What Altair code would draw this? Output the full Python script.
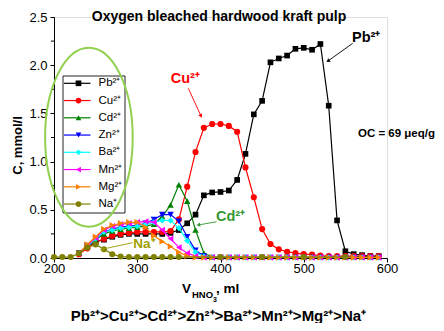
import altair as alt
import pandas as pd

FONT = "Liberation Sans"

# ---------------- data ----------------
V = [200, 210, 220, 230, 240, 250, 260, 270, 280, 290,
     300, 310, 320, 330, 340, 350, 360, 370, 380, 390,
     400, 410, 420, 430, 440, 450, 460, 470, 480, 490,
     500, 510, 520, 530, 540, 550, 560, 570, 580, 590]

Pb = [None, None, None, 0.05, 0.12, 0.17, 0.19, 0.22, 0.24, 0.25,
      0.25, 0.25, 0.25, 0.25, 0.26, 0.29, 0.36, 0.45, 0.65, 0.68,
      0.685, 0.70, 0.81, 1.08, 1.49, 1.63, 2.03, 2.07, 2.10, 2.17,
      2.18, 2.16, 2.22, 1.58, 0.39, 0.07, 0.04, 0.03, 0.02, 0.02]
Cu = [None, None, None, 0.04, 0.10, 0.16, 0.20, 0.23, 0.25, 0.26,
      0.27, 0.27, 0.27, 0.27, 0.28, 0.40, 0.74, 1.10, 1.35, 1.39,
      1.39, 1.37, 1.31, 0.94, 0.63, 0.30, 0.145, 0.09, 0.065, 0.05,
      0.04, 0.035, 0.025, 0.02, 0.02, 0.02, 0.02, 0.02, 0.02, 0.02]
Cd = [None, None, None, 0.05, 0.12, 0.19, 0.25, 0.28, 0.30, 0.31,
      0.32, 0.33, 0.35, 0.43, 0.55, 0.76, 0.59, 0.29, 0.05, 0.01,
      0.01, 0.01, 0.01, 0.01, 0.01, 0.01, 0.01, 0.01, 0.01, 0.01,
      0.01, 0.01, 0.01, 0.01, 0.01, 0.01, 0.01, 0.01, 0.01, 0.01]
Zn = [None, None, None, 0.05, 0.13, 0.20, 0.27, 0.30, 0.32, 0.33,
      0.34, 0.36, 0.40, 0.45, 0.45, 0.38, 0.22, 0.08, 0.02, 0.005,
      0.005, 0.005, 0.005, 0.005, 0.005, 0.005, 0.005, 0.005, 0.005, 0.005,
      0.005, 0.005, 0.005, 0.005, 0.005, 0.005, 0.005, 0.005, 0.005, 0.005]
Ba = [None, None, None, 0.05, 0.12, 0.20, 0.27, 0.29, 0.31, 0.32,
      0.33, 0.35, 0.37, 0.39, 0.39, 0.31, 0.18, 0.06, 0.015, 0.005,
      0.005, 0.005, 0.005, 0.005, 0.005, 0.005, 0.005, 0.005, 0.005, 0.005,
      0.005, 0.005, 0.005, 0.005, 0.005, 0.005, 0.005, 0.005, 0.005, 0.005]
Mn = [None, None, None, 0.05, 0.13, 0.21, 0.29, 0.33, 0.35, 0.36,
      0.37, 0.38, 0.37, 0.29, 0.20, 0.11, 0.05, 0.02, 0.005, 0.005,
      0.005, 0.005, 0.005, 0.005, 0.005, 0.005, 0.005, 0.005, 0.005, 0.005,
      0.005, 0.005, 0.005, 0.005, 0.005, 0.005, 0.005, 0.005, 0.005, 0.005]
Mg = [None, None, None, 0.05, 0.14, 0.22, 0.30, 0.34, 0.36, 0.37,
      0.37, 0.32, 0.23, 0.17, 0.12, 0.06, 0.02, 0.005, 0.005, 0.005,
      0.005, 0.005, 0.005, 0.005, 0.005, 0.005, 0.005, 0.005, 0.005, 0.005,
      0.005, 0.005, 0.005, 0.005, 0.005, 0.005, 0.005, 0.005, 0.005, 0.005]
Na = [0.01, 0.01, 0.01, 0.05, 0.11, 0.14, 0.09, 0.04, 0.015, 0.01,
      0.01, 0.01, 0.01, 0.01, 0.01, 0.01, None, None, None, None,
      0.01, None, None, None, None, 0.01, None, None, None, None,
      0.01, None, None, None, None, 0.01, None, None, None, None]

series_keys = ["Pb", "Cu", "Cd", "Zn", "Ba", "Mn", "Mg", "Na"]
series_vals = [Pb, Cu, Cd, Zn, Ba, Mn, Mg, Na]
series_labels = ["Pb²⁺", "Cu²⁺", "Cd²⁺", "Zn²⁺", "Ba²⁺", "Mn²⁺", "Mg²⁺", "Na⁺"]
series_colors = ["#000000", "#ff0000", "#008000", "#0000ff", "#00ffff",
                 "#ff00ff", "#ff8000", "#808000"]
series_shapes = ["square", "circle", "triangle-up", "triangle-down", "diamond",
                 "triangle-left", "triangle-right", "circle"]
series_sizes = [32, 38, 42, 42, 38, 42, 42, 36]

x_ticks = [200, 300, 400, 500, 600]
y_ticks = [0.0, 0.5, 1.0, 1.5, 2.0, 2.5]
y_minor = [0.25, 0.75, 1.25, 1.75, 2.25]

title_text = "Oxygen bleached hardwood kraft pulp"
order_text = "Pb²⁺>Cu²⁺>Cd²⁺>Zn²⁺>Ba²⁺>Mn²⁺>Mg²⁺>Na⁺"

# ---------------- layout helpers ----------------
W, H = 333, 241
XD = [200, 600]
YD = [0, 2.5]
LEFT, TOP = 54, 17  # screen position of the plot origin


def dx(px):
    return XD[0] + (px - LEFT) / W * (XD[1] - XD[0])


def dy(py):
    return YD[0] + (TOP + H - py) / H * (YD[1] - YD[0])


xs = alt.Scale(domain=XD, nice=False, zero=False)
ys = alt.Scale(domain=YD, nice=False, zero=False)

xax = alt.Axis(values=x_ticks, format="d", title=None, grid=False, tickSize=4,
               labelFontSize=13, labelPadding=0, domainColor="#000", tickColor="#000",
               labelColor="#000", labelFont=FONT, labelFlush=False)
yax = alt.Axis(values=y_ticks, format=".1f", title="C, mmol/l", grid=False, tickSize=4,
               labelFontSize=13, labelPadding=3, domainColor="#000", tickColor="#000",
               labelColor="#000", labelFont=FONT,
               titleFont=FONT, titleFontSize=13, titleFontWeight="bold", titleColor="#000",
               titleAngle=270, titleX=-33, titleY=128, titleBaseline="alphabetic",
               titleAlign="center")


def X(f="x"):
    return alt.X(f + ":Q", scale=xs)


def Y(f="y"):
    return alt.Y(f + ":Q", scale=ys)


layers = []

# axes carrier (invisible)
axis_df = pd.DataFrame({"x": XD, "y": YD})
layers.append(alt.Chart(axis_df).mark_point(opacity=0).encode(
    x=alt.X("x:Q", scale=xs, axis=xax), y=alt.Y("y:Q", scale=ys, axis=yax)))

# y minor ticks
layers.append(alt.Chart(pd.DataFrame({"y": y_minor})).mark_rule(color="#000").encode(
    x=alt.value(-3), x2=alt.value(0), y=Y()))

# legend box
box_df = pd.DataFrame({"x": [dx(63)], "x2": [dx(125)], "y": [dy(76)], "y2": [dy(213)]})
layers.append(alt.Chart(box_df).mark_rect(fill="white", stroke="#222", strokeWidth=1).encode(
    x=X(), x2="x2:Q", y=Y(), y2="y2:Q"))

# legend entries
leg = pd.DataFrame({
    "name": series_labels, "color": series_colors, "shape": series_shapes,
    "y": [dy(83.3 + 17.25 * i) for i in range(len(series_labels))],
})
leg["x"] = dx(64)
leg["x2"] = dx(90.5)
leg["xm"] = dx(78.5)
leg["xt"] = dx(98.5)
layers.append(alt.Chart(leg).mark_rule(strokeWidth=1.2).encode(
    x=X(), x2="x2:Q", y=Y(), color=alt.Color("color:N", scale=None)))
layers.append(alt.Chart(leg).transform_calculate(x="datum.xm").mark_point(
    filled=True, size=32, opacity=1).encode(
    x=X(), y=Y(), color=alt.Color("color:N", scale=None),
    shape=alt.Shape("shape:N", scale=None)))
layers.append(alt.Chart(leg).transform_calculate(x="datum.xt").mark_text(
    align="left", baseline="middle", fontSize=11.5, font=FONT, color="#000").encode(
    x=X(), y=Y(), text="name:N"))

# green ellipse highlighting the legend
ell_ry = 89.5
ell_rx = 43.8
ell_path = "M -{r} 0 A {r} 1 0 1 1 {r} 0 A {r} 1 0 1 1 -{r} 0 Z".format(r=round(ell_rx / ell_ry, 4))
ell_df = pd.DataFrame({"x": [dx(88.9)], "y": [dy(137.2)]})
layers.append(alt.Chart(ell_df).mark_point(shape=ell_path, size=(2 * ell_ry) ** 2, filled=False,
                                           stroke="#92d050", strokeWidth=2, opacity=1).encode(
    x=X(), y=Y()))

# data series
for key, vals, col, shp, sz in zip(series_keys, series_vals, series_colors,
                                    series_shapes, series_sizes):
    d = pd.DataFrame({"x": V, "y": vals}).dropna()
    base = alt.Chart(d).encode(x=X(), y=Y())
    layers.append(base.mark_line(color=col, strokeWidth=1.2))
    layers.append(base.mark_point(shape=shp, filled=True, size=sz, color=col, opacity=1))

# annotation arrows (screen positions of start / tip)
arr = pd.DataFrame({
    "x": [dx(188.3), dx(352.7), dx(132.7), dx(216.7)],
    "y": [dy(88.3), dy(43.3), dy(242.7), dy(221.7)],
    "x2": [dx(201), dx(328), dx(101.7), dx(198.3)],
    "y2": [dy(116), dy(61), dy(249.3), dy(225)],
    "ang": [65, 144, 168, 170],
    "color": ["#ff0000", "#000000", "#999900", "#339933"],
})
layers.append(alt.Chart(arr).mark_rule(strokeWidth=0.9).encode(
    x=X(), x2="x2:Q", y=Y(), y2="y2:Q", color=alt.Color("color:N", scale=None)))
layers.append(alt.Chart(arr).transform_calculate(x="datum.x2", y="datum.y2").mark_point(
    shape="triangle-right", filled=True, size=18, opacity=1).encode(
    x=X(), y=Y(), angle=alt.Angle("ang:Q", scale=None), color=alt.Color("color:N", scale=None)))

# texts, left aligned (screen positions, alphabetic baseline)
tl = pd.DataFrame({
    "t": ["Cu²⁺", "Pb²⁺", "Na⁺", "Cd²⁺", "V", "HNO", "3", ", ml"],
    "x": [dx(170.7), dx(352), dx(133.3), dx(216), dx(182), dx(192), dx(213), dx(216)],
    "y": [dy(82.7), dy(41.7), dy(248.3), dy(220.5), dy(293), dy(298), dy(301.5), dy(293)],
    "fs": [14.5, 14.5, 13.5, 14.5, 13.5, 9.5, 7, 13.5],
    "color": ["#ff0000", "#000000", "#a0a000", "#339933",
              "#000000", "#000000", "#000000", "#000000"],
})
layers.append(alt.Chart(tl).mark_text(align="left", baseline="alphabetic", font=FONT,
                                      fontWeight="bold").encode(
    x=X(), y=Y(), text="t:N", size=alt.Size("fs:Q", scale=None),
    color=alt.Color("color:N", scale=None)))

# right aligned note
tr = pd.DataFrame({"t": ["OC = 69 μeq/g"], "x": [dx(435)], "y": [dy(136.7)]})
layers.append(alt.Chart(tr).mark_text(align="right", baseline="alphabetic", font=FONT,
                                      fontWeight="bold", fontSize=11.5, color="#000").encode(
    x=X(), y=Y(), text="t:N"))

# texts, centred
tc = pd.DataFrame({
    "t": [title_text, order_text],
    "x": [dx(219), dx(218.5)],
    "y": [dy(20.5), dy(321)],
    "fs": [14, 15],
})
layers.append(alt.Chart(tc).mark_text(align="center", baseline="alphabetic", font=FONT,
                                      fontWeight="bold", color="#000").encode(
    x=X(), y=Y(), text="t:N", size=alt.Size("fs:Q", scale=None)))

chart = alt.layer(*layers).properties(
    width=W, height=H,
    padding={"left": 46, "right": 49, "top": 9, "bottom": 65},
    autosize=alt.AutoSizeParams(type="none"),
    background="white",
).configure_view(stroke=None).configure(font=FONT)

chart.save("out.html", embed_options={"renderer": "svg", "actions": False})
